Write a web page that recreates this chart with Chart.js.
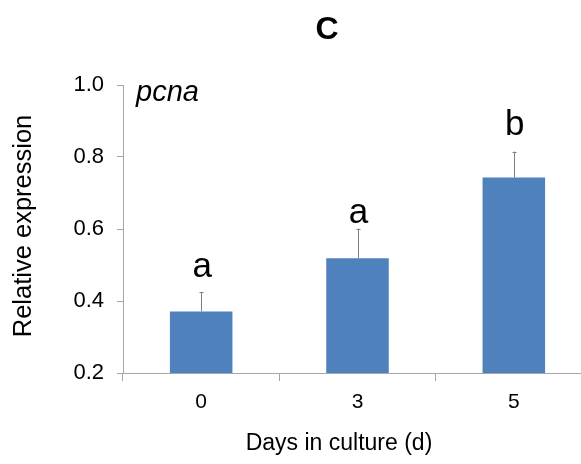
<!DOCTYPE html>
<html>
<head>
<meta charset="utf-8">
<script src="https://cdn.jsdelivr.net/npm/chart.js@4"></script>
<style>
    html, body { margin: 0; padding: 0; background: #fff; overflow: hidden; }
    #wrap { width: 594px; height: 464px; }
</style>
</head>
<body>
<div id="wrap"><canvas id="pcna-chart" width="594" height="464"></canvas></div>
<script>
// pcna expression by days in culture
const days = ['0', '3', '5'];
const expression = [0.371, 0.519, 0.743];
const errors = [0.054, 0.082, 0.072];
const groups = ['a', 'a', 'b'];
const yTicks = [0.2, 0.4, 0.6, 0.8, 1.0];

const FONT = '"Liberation Sans", Arial, sans-serif';
const AXIS_GRAY = '#a6a6a6';
// space between the top of an error bar and its group letter, px
const letterGap = [15, 6, 17];

/**
 * Draws error bars, group letters and the free texts around the plot.
 */
const annotations = {
    id: 'annotations',
    afterDatasetsDraw(chart) {
        const ctx = chart.ctx;
        const meta = chart.getDatasetMeta(0);
        const y = chart.scales.y;

        ctx.save();
        meta.data.forEach((bar, i) => {
            const top = y.getPixelForValue(expression[i] + errors[i]);
            const x = Math.round(bar.x) + 0.5;
            ctx.strokeStyle = '#7f7f7f';
            ctx.lineWidth = 1;
            ctx.beginPath();
            ctx.moveTo(x, bar.y);
            ctx.lineTo(x, top);
            ctx.moveTo(x - 2, Math.round(top) + 0.5);
            ctx.lineTo(x + 2, Math.round(top) + 0.5);
            ctx.stroke();

            ctx.fillStyle = '#000';
            ctx.font = `35px ${FONT}`;
            ctx.textAlign = 'center';
            ctx.textBaseline = 'alphabetic';
            ctx.fillText(groups[i], bar.x + 1, top - letterGap[i]);
        });

        ctx.fillStyle = '#000';
        ctx.font = `bold 32px ${FONT}`;
        ctx.textAlign = 'center';
        ctx.textBaseline = 'middle';
        ctx.fillText('C', 327, 30);

        ctx.font = `italic 29px ${FONT}`;
        ctx.textAlign = 'left';
        ctx.textBaseline = 'alphabetic';
        ctx.fillText('pcna', 136, 101);

        ctx.font = `23px ${FONT}`;
        ctx.textAlign = 'center';
        ctx.textBaseline = 'middle';
        ctx.fillText('Days in culture (d)', 339, 444);

        ctx.translate(24, 226);
        ctx.rotate(-Math.PI / 2);
        ctx.font = `25.5px ${FONT}`;
        ctx.fillText('Relative expression', 0, 0);
        ctx.restore();
    }
};

document.addEventListener('DOMContentLoaded', function() {
    const ctx = document.getElementById('pcna-chart').getContext('2d');

    new Chart(ctx, {
        type: 'bar',
        data: {
            labels: days,
            datasets: [{
                label: 'pcna',
                data: expression,
                backgroundColor: '#4f81bd',
                borderWidth: 0,
                barPercentage: 0.4,
                categoryPercentage: 1.0
            }]
        },
        options: {
            responsive: false,
            animation: false,
            layout: {
                padding: { top: 85, right: 2, bottom: 0, left: 0 }
            },
            plugins: {
                legend: { display: false },
                title: { display: false },
                tooltip: { enabled: false }
            },
            scales: {
                x: {
                    offset: true,
                    grid: {
                        offset: true,
                        drawOnChartArea: false,
                        drawTicks: true,
                        tickLength: 8,
                        color: AXIS_GRAY
                    },
                    border: { display: true, color: AXIS_GRAY },
                    ticks: {
                        color: '#000',
                        padding: 9,
                        font: { family: FONT, size: 21 }
                    },
                    afterFit(scale) { scale.height = 91; }
                },
                y: {
                    min: 0.2,
                    max: 1.0,
                    afterBuildTicks(scale) {
                        scale.ticks = yTicks.map(v => ({ value: v }));
                    },
                    grid: {
                        drawOnChartArea: false,
                        drawTicks: true,
                        tickLength: 6,
                        color: AXIS_GRAY
                    },
                    border: { display: true, color: AXIS_GRAY },
                    ticks: {
                        color: '#000',
                        padding: 13,
                        font: { family: FONT, size: 22 },
                        callback: v => Number(v).toFixed(1)
                    },
                    afterFit(scale) { scale.width = 123; }
                }
            }
        },
        plugins: [annotations]
    });
});
</script>
</body>
</html>
